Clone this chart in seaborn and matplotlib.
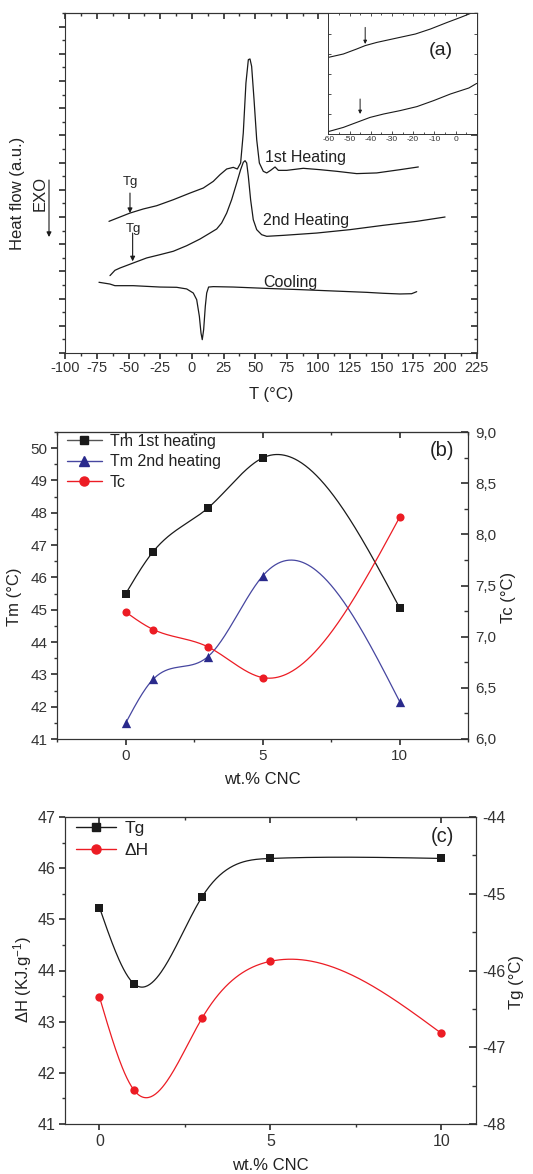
import numpy as np
import matplotlib
matplotlib.use("Agg")
import matplotlib.pyplot as plt
import seaborn as sns
from matplotlib.ticker import MultipleLocator, FuncFormatter, FixedLocator
from matplotlib.lines import Line2D

sns.set_theme(style="ticks")
plt.rcParams["font.family"] = ["Liberation Sans", "DejaVu Sans"]
plt.rcParams["mathtext.fontset"] = "custom"
plt.rcParams["mathtext.rm"] = "Liberation Sans"
plt.rcParams["mathtext.default"] = "regular"
plt.rcParams["axes.unicode_minus"] = False
plt.rcParams["axes.edgecolor"] = "#333333"
plt.rcParams["axes.linewidth"] = 0.8
plt.rcParams["xtick.color"] = "#333333"
plt.rcParams["ytick.color"] = "#333333"
plt.rcParams["text.color"] = "#222222"

## (a) DSC curves  (heat flow in arbitrary units)
heat1_T = [-65.5, -48.9, -38.4, -27.8, -14.7, -1.5, 9.0, 16.9, 22.2, 27.5, 32.7, 35.9,
           38.5, 40.6, 42.7, 44.6, 45.9, 47.2, 49.1, 51.2, 53.3, 56.4, 59.1, 62.2,
           65.7, 68.3, 74.9, 88.0, 101.2, 114.4, 130.2, 146.0, 164.4, 178.9]
heat1_hf = [9.68, 10.29, 10.59, 10.83, 11.27, 11.76, 12.13, 12.62, 13.11, 13.53, 13.65, 13.53,
            13.97, 16.18, 19.85, 21.57, 21.62, 21.08, 18.63, 15.69, 13.97, 13.36, 13.24, 13.43,
            13.68, 13.43, 13.43, 13.58, 13.48, 13.36, 13.19, 13.24, 13.48, 13.68]
heat2_T = [-64.7, -60.8, -56.8, -46.3, -35.7, -25.2, -14.7, -4.1, 6.4, 14.3, 19.6, 23.5,
           27.5, 31.4, 35.4, 38.5, 40.6, 42.0, 43.3, 44.6, 46.4, 48.5, 51.2, 55.1,
           59.1, 72.2, 98.6, 124.9, 151.3, 177.6, 200.0]
heat2_hf = [5.69, 6.08, 6.25, 6.62, 6.99, 7.23, 7.48, 7.89, 8.38, 8.82, 9.12, 9.56,
            10.29, 11.27, 12.50, 13.48, 14.02, 14.14, 13.97, 12.99, 11.27, 9.80, 9.07, 8.70,
            8.58, 8.65, 8.82, 9.07, 9.39, 9.68, 10.0]
cool_T = [-73.4, -64.7, -60.8, -46.3, -25.2, -12.0, -4.1, 1.1, 3.8, 5.9, 7.2, 8.2,
          9.3, 10.6, 11.7, 13.2, 16.9, 32.7, 59.1, 85.4, 111.7, 138.1, 151.3, 164.4,
          173.6, 177.6]
cool_hf = [5.20, 5.07, 4.95, 4.95, 4.85, 4.83, 4.71, 4.41, 3.92, 2.70, 1.47, 0.98,
           1.72, 3.43, 4.41, 4.85, 4.88, 4.85, 4.75, 4.66, 4.56, 4.46, 4.39, 4.34,
           4.36, 4.51]

# inset: glass transition region
ins1_T = [-60, -52.9, -46.6, -42.6, -37.1, -27.6, -18.9, -11.8, -3.9, 2.4, 7.1]
ins1_hf = [3.83, 4.0, 4.25, 4.42, 4.58, 4.8, 5.0, 5.25, 5.58, 5.83, 6.03]
ins2_T = [-60, -52.9, -46.6, -40.3, -33.9, -26.1, -18.2, -10.3, -2.4, 6.3, 10]
ins2_hf = [0.12, 0.33, 0.58, 0.83, 1.0, 1.17, 1.37, 1.67, 2.0, 2.3, 2.53]

## (b) melting / crystallisation temperatures
wt_cnc = [0, 1, 3, 5, 10]
tm_1st = [45.5, 46.8, 48.15, 49.7, 45.05]
tm_2nd = [41.5, 42.85, 43.55, 46.05, 42.15]
tc = [7.24, 7.07, 6.90, 6.60, 8.17]

## (c) enthalpy and Tg
dh = [43.48, 41.67, 43.07, 44.18, 42.77]
tg = [-45.18, -46.17, -45.04, -44.54, -44.54]

BLACK = "#1a1a1a"
NAVY = "#2a2a8c"
NAVY_LINE = "#4646a0"
RED = "#ec1c24"


def spline(x, y, n=300):
    # natural cubic spline through the points, like the Origin "spline" line
    x = np.asarray(x, float)
    y = np.asarray(y, float)
    h = np.diff(x)
    k = len(x)
    A = np.zeros((k, k))
    r = np.zeros(k)
    A[0, 0] = A[-1, -1] = 1
    for i in range(1, k - 1):
        A[i, i - 1] = h[i - 1]
        A[i, i] = 2 * (h[i - 1] + h[i])
        A[i, i + 1] = h[i]
        r[i] = 6 * ((y[i + 1] - y[i]) / h[i] - (y[i] - y[i - 1]) / h[i - 1])
    M = np.linalg.solve(A, r)
    xs = np.linspace(x[0], x[-1], n)
    j = np.clip(np.searchsorted(x, xs) - 1, 0, k - 2)
    t0 = xs - x[j]
    t1 = x[j + 1] - xs
    hj = h[j]
    ys = (M[j] * t1 ** 3 + M[j + 1] * t0 ** 3) / (6 * hj) \
        + (y[j] / hj - M[j] * hj / 6) * t1 + (y[j + 1] / hj - M[j + 1] * hj / 6) * t0
    return xs, ys


def comma(v, p):
    return f"{v:.1f}".replace(".", ",")


def top_ticks(ax, major, minor):
    sec = ax.secondary_xaxis("top")
    sec.xaxis.set_major_locator(MultipleLocator(major))
    sec.xaxis.set_minor_locator(MultipleLocator(minor))
    sec.tick_params(which="both", direction="in", labeltop=False)
    sec.tick_params(which="major", length=4)
    sec.tick_params(which="minor", length=2)
    return sec


W, H = 533, 1174
fig = plt.figure(figsize=(W / 100, H / 100), dpi=100)


def box(l, t, r, b):
    return [l / W, 1 - b / H, (r - l) / W, (b - t) / H]


# ---------------- (a)
ax_a = fig.add_axes(box(65.3, 13, 476.7, 353))
for T, hf in [(heat1_T, heat1_hf), (heat2_T, heat2_hf), (cool_T, cool_hf)]:
    sns.lineplot(x=T, y=hf, ax=ax_a, color=BLACK, lw=0.9, sort=False, estimator=None)
ax_a.set_xlim(-100, 225)
ax_a.set_ylim(0, 25)
ax_a.xaxis.set_major_locator(MultipleLocator(25))
ax_a.xaxis.set_minor_locator(MultipleLocator(12.5))
ax_a.yaxis.set_major_locator(MultipleLocator(2))
ax_a.yaxis.set_minor_locator(MultipleLocator(1))
ax_a.tick_params(which="both", direction="out", labelleft=False, labelsize=10.5, pad=2)
ax_a.tick_params(which="major", length=4)
ax_a.tick_params(which="minor", length=2.5)
top_ticks(ax_a, 25, 12.5)
sec = ax_a.secondary_yaxis("right")
sec.yaxis.set_major_locator(MultipleLocator(2))
sec.yaxis.set_minor_locator(MultipleLocator(1))
sec.tick_params(which="both", direction="in", labelright=False)
sec.tick_params(which="major", length=4)
sec.tick_params(which="minor", length=2)

ax_a.text(57.8, 14.34, "1st Heating", fontsize=11.5, va="center")
ax_a.text(56.4, 9.75, "2nd Heating", fontsize=11.5, va="center")
ax_a.text(56.4, 5.2, "Cooling", fontsize=11.5, va="center")
ax_a.text(-54.5, 12.55, "Tg", fontsize=9.5, va="center")
ax_a.text(-52.5, 9.14, "Tg", fontsize=9.5, va="center")
arrow = dict(arrowstyle="-|>", lw=0.8, color=BLACK, mutation_scale=7, shrinkA=0, shrinkB=0)
ax_a.annotate("", xy=(-48.9, 10.29), xytext=(-48.9, 11.76), arrowprops=arrow)
ax_a.annotate("", xy=(-46.8, 6.74), xytext=(-46.8, 8.82), arrowprops=arrow)
ax_a.annotate("", xy=(49, H - 237), xytext=(49, H - 180), xycoords="figure pixels",
              textcoords="figure pixels", arrowprops=arrow)
fig.text(18 / W, 1 - 193 / H, "Heat flow (a.u.)", rotation=90, fontsize=12, ha="center", va="center")
fig.text(40 / W, 1 - 193 / H, "EXO", rotation=90, fontsize=12, ha="center", va="center")
fig.text(271 / W, 1 - 395 / H, "T (°C)", fontsize=12, ha="center", va="center")

ax_in = fig.add_axes(box(328.3, 13, 476.7, 134))
ax_in.set_facecolor("white")
sns.lineplot(x=ins1_T, y=ins1_hf, ax=ax_in, color=BLACK, lw=0.8, sort=False, estimator=None)
sns.lineplot(x=ins2_T, y=ins2_hf, ax=ax_in, color=BLACK, lw=0.8, sort=False, estimator=None)
ax_in.set_xlim(-60, 10)
ax_in.set_ylim(0, 6.05)
ax_in.xaxis.set_major_locator(FixedLocator([-60, -50, -40, -30, -20, -10, 0]))
ax_in.xaxis.set_minor_locator(MultipleLocator(5))
ax_in.yaxis.set_major_locator(FixedLocator([1, 2, 3, 4, 5]))
ax_in.yaxis.set_minor_locator(FixedLocator([]))
ax_in.tick_params(which="both", direction="in", top=True, right=True, labelleft=False,
                  labelsize=6, pad=1.5)
ax_in.tick_params(which="major", length=2.5, width=0.6)
ax_in.tick_params(which="minor", length=1.5, width=0.6)
for s in ax_in.spines.values():
    s.set_linewidth(0.7)
ax_in.annotate("", xy=(-42.6, 4.5), xytext=(-42.6, 5.33), arrowprops=dict(arrow, lw=0.7, mutation_scale=5))
ax_in.annotate("", xy=(-45.0, 1.0), xytext=(-45.0, 1.75), arrowprops=dict(arrow, lw=0.7, mutation_scale=5))
ax_in.text(0.76, 0.694, "(a)", transform=ax_in.transAxes, fontsize=14, ha="center", va="center")

# ---------------- (b)
ax_b = fig.add_axes(box(57.3, 432, 468.3, 739))
ax_b2 = ax_b.twinx()
for y, c, m, s, ax in [(tm_1st, BLACK, "s", 28, ax_b), (tm_2nd, NAVY, "^", 45, ax_b), (tc, RED, "o", 34, ax_b2)]:
    xs, ys = spline(wt_cnc, y)
    sns.lineplot(x=xs, y=ys, ax=ax, color=NAVY_LINE if c == NAVY else c, lw=0.9, estimator=None)
    sns.scatterplot(x=wt_cnc, y=y, ax=ax, color=c, marker=m, s=s, linewidth=0, zorder=3)
ax_b.set_xlim(-2.5, 12.5)
ax_b.set_ylim(41, 50.5)
ax_b2.set_ylim(6, 9)
ax_b.xaxis.set_major_locator(MultipleLocator(5))
ax_b.xaxis.set_minor_locator(MultipleLocator(2.5))
ax_b.yaxis.set_major_locator(MultipleLocator(1))
ax_b.yaxis.set_minor_locator(MultipleLocator(0.5))
ax_b2.yaxis.set_major_locator(MultipleLocator(0.5))
ax_b2.yaxis.set_minor_locator(MultipleLocator(0.25))
ax_b2.yaxis.set_major_formatter(FuncFormatter(comma))
ax_b.tick_params(which="both", direction="out", labelsize=11, pad=3)
ax_b.tick_params(which="major", length=4)
ax_b.tick_params(which="minor", length=2.5)
ax_b2.tick_params(which="both", direction="in", labelsize=11, pad=5)
ax_b2.tick_params(which="major", length=5)
ax_b2.tick_params(which="minor", length=3)
top_ticks(ax_b, 5, 2.5)
handles = [Line2D([0], [0], color="#555555", lw=1, marker="s", ms=5.5, mfc=BLACK, mec=BLACK),
           Line2D([0], [0], color=NAVY_LINE, lw=1, marker="^", ms=7, mfc=NAVY, mec=NAVY),
           Line2D([0], [0], color=RED, lw=1, marker="o", ms=6.5, mfc=RED, mec=RED)]
ax_b2.legend(handles, ["Tm 1st heating", "Tm 2nd heating", "Tc"], loc="upper left",
             bbox_to_anchor=(0.0, 1.025), frameon=False, fontsize=11.5, handlelength=2.2,
             handletextpad=0.5, labelspacing=0.35, borderaxespad=0.2)
ax_b2.text((442 - 57.3) / 411, (739 - 450) / 307, "(b)", transform=ax_b2.transAxes,
           fontsize=14.5, ha="center", va="center")
fig.text(15 / W, 1 - 597 / H, "Tm (°C)", rotation=90, fontsize=12, ha="center", va="center")
fig.text(508 / W, 1 - 597 / H, "Tc (°C)", rotation=90, fontsize=12, ha="center", va="center")
fig.text(262.8 / W, 1 - 780 / H, "wt.% CNC", fontsize=12, ha="center", va="center")

# ---------------- (c)
ax_c = fig.add_axes(box(65.3, 817, 475.7, 1124))
ax_c2 = ax_c.twinx()
for y, c, m, s, ax in [(dh, RED, "o", 36, ax_c), (tg, BLACK, "s", 30, ax_c2)]:
    xs, ys = spline(wt_cnc, y)
    sns.lineplot(x=xs, y=ys, ax=ax, color=c, lw=0.9, estimator=None)
    sns.scatterplot(x=wt_cnc, y=y, ax=ax, color=c, marker=m, s=s, linewidth=0, zorder=3)
ax_c.set_xlim(-1, 11)
ax_c.set_ylim(41, 47)
ax_c2.set_ylim(-48, -44)
ax_c.xaxis.set_major_locator(MultipleLocator(5))
ax_c.xaxis.set_minor_locator(MultipleLocator(2.5))
ax_c.yaxis.set_major_locator(MultipleLocator(1))
ax_c.yaxis.set_minor_locator(MultipleLocator(0.5))
ax_c2.yaxis.set_major_locator(MultipleLocator(1))
ax_c2.yaxis.set_minor_locator(MultipleLocator(0.5))
ax_c.tick_params(which="both", direction="out", labelsize=11.5, pad=3)
ax_c.tick_params(which="major", length=4)
ax_c.tick_params(which="minor", length=2.5)
ax_c2.tick_params(which="both", direction="in", labelsize=11.5, pad=5)
ax_c2.tick_params(which="major", length=5)
ax_c2.tick_params(which="minor", length=3)
top_ticks(ax_c, 5, 2.5)
handles = [Line2D([0], [0], color=BLACK, lw=1, marker="s", ms=5.5, mfc=BLACK, mec=BLACK),
           Line2D([0], [0], color=RED, lw=1, marker="o", ms=6.5, mfc=RED, mec=RED)]
ax_c2.legend(handles, ["Tg", "ΔH"], loc="upper left", bbox_to_anchor=(0.0, 1.02),
             frameon=False, fontsize=12.5, handlelength=2.3, handletextpad=0.5,
             labelspacing=0.35, borderaxespad=0.2)
ax_c2.text((442 - 65.3) / 410.4, (1124 - 837) / 307, "(c)", transform=ax_c2.transAxes,
           fontsize=14.5, ha="center", va="center")
fig.text(23 / W, 1 - 980 / H, "ΔH (KJ.g$^{-1}$)", rotation=90, fontsize=12, ha="center", va="center")
fig.text(516 / W, 1 - 982 / H, "Tg (°C)", rotation=90, fontsize=12, ha="center", va="center")
fig.text(270.5 / W, 1 - 1166 / H, "wt.% CNC", fontsize=12, ha="center", va="center")

fig.savefig("out.png", dpi=100)
